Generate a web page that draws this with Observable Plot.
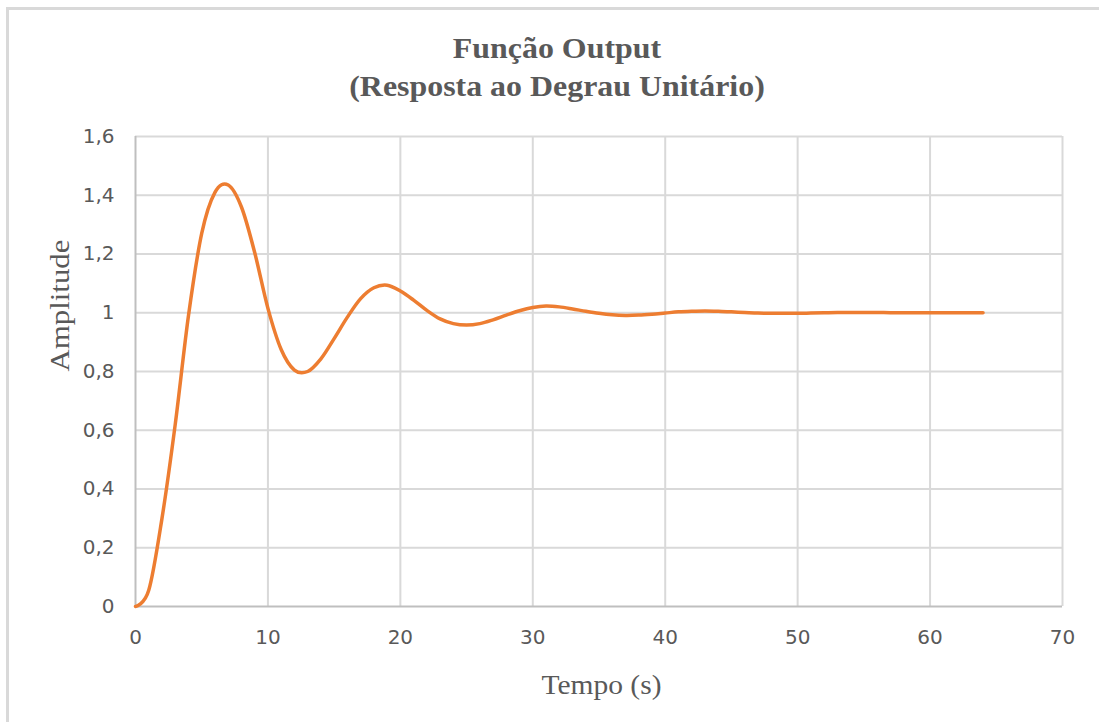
<!DOCTYPE html>
<html>
<head>
<meta charset="utf-8">
<script src="https://cdn.jsdelivr.net/npm/d3@7"></script>
<script src="https://cdn.jsdelivr.net/npm/@observablehq/plot@0.6"></script>
<style>
  html, body { margin: 0; padding: 0; background: #fff; overflow: hidden; width: 1099px; height: 722px; }
  #frame { position: absolute; left: 6px; top: 7px; width: 1200px; height: 800px; border: 3px solid #d9d9d9; box-sizing: border-box; }
  #title { position: absolute; left: 8px; width: 1098px; top: 29px; text-align: center;
           font: bold 29px "Liberation Serif", serif; line-height: 38px; color: #595959;
           transform: scaleX(1.1); transform-origin: center top; }
  #chart { position: absolute; left: 0; top: 120px; }
</style>
</head>
<body>
<div id="frame"></div>
<div id="title"><div>Função Output</div><div>(Resposta ao Degrau Unitário)</div></div>
<div id="chart"></div>
<script>
// Step response samples: time (s) and output amplitude
const tempo = [0, 1, 2, 3, 4, 5, 6, 7, 8, 9, 10, 11, 12, 13, 14, 15, 16, 17, 18, 19, 20,
  21, 22, 23, 24, 25, 26, 27, 28, 29, 30, 31, 32, 33, 34, 35, 36, 37, 38, 39, 40,
  41, 42, 43, 44, 45, 46, 47, 48, 49, 50, 51, 52, 53, 54, 55, 56, 57, 58, 59, 60,
  61, 62, 63, 64];
const amplitude = [0, 0.055, 0.30, 0.62, 0.99, 1.27, 1.41, 1.435, 1.36, 1.205, 1.015,
  0.875, 0.805, 0.800, 0.843, 0.912, 0.985, 1.048, 1.085, 1.094, 1.074,
  1.043, 1.008, 0.979, 0.963, 0.958, 0.963, 0.976, 0.992, 1.007, 1.018,
  1.023, 1.020, 1.013, 1.005, 0.998, 0.993, 0.991, 0.992, 0.995, 0.999,
  1.003, 1.005, 1.006, 1.005, 1.003, 1.001, 0.999, 0.998, 0.998, 0.998,
  0.999, 1.000, 1.001, 1.001, 1.001, 1.001, 1.000, 1.000, 1.000, 1.000,
  1.000, 1.000, 1.000, 1.000];

const xTicks = [0, 10, 20, 30, 40, 50, 60, 70];
const yTicks = [0, 0.2, 0.4, 0.6, 0.8, 1, 1.2, 1.4, 1.6];

const xLabel = "Tempo (s)";
const yLabel = "Amplitude";

const data = tempo.map((t, i) => ({t, a: amplitude[i]}));
const commaDecimal = d => String(d).replace(".", ",");

const labelStyle = {fontFamily: "Liberation Serif", fontSize: 27, fill: "#595959", text: d => d};

const chart = Plot.plot({
  width: 1099,
  height: 602,
  marginTop: 16,
  marginBottom: 116,
  marginLeft: 135,
  marginRight: 37,
  style: {fontFamily: "DejaVu Sans", fontSize: "20px", color: "#595959", background: "transparent"},
  x: {domain: [0, 70]},
  y: {domain: [0, 1.6]},
  marks: [
    Plot.gridX(xTicks.filter(d => d > 0), {stroke: "#d9d9d9", strokeOpacity: 1, strokeWidth: 2}),
    Plot.gridY(yTicks.filter(d => d > 0), {stroke: "#d9d9d9", strokeOpacity: 1, strokeWidth: 2}),
    Plot.ruleX([0], {stroke: "#bfbfbf", strokeWidth: 2}),
    Plot.ruleY([0], {stroke: "#bfbfbf", strokeWidth: 2}),
    Plot.axisX({ticks: xTicks, tickSize: 0, tickPadding: 23, label: null}),
    Plot.axisY({ticks: yTicks, tickSize: 0, tickPadding: 21, tickFormat: commaDecimal, label: null}),
    Plot.line(data, {x: "t", y: "a", stroke: "#ED7D31", strokeWidth: 3.5, curve: "cardinal", tension: 0}),
    Plot.text([yLabel], {...labelStyle, frameAnchor: "left", dx: -75, rotate: -90}),
    Plot.text([xLabel], {...labelStyle, frameAnchor: "bottom", dx: 2.5, dy: 87})
  ]
});

// Widen the axis titles to the chart's stretched lettering
d3.select(chart).selectAll("text")
  .filter(function () { return this.textContent === yLabel; })
  .attr("textLength", 132).attr("lengthAdjust", "spacingAndGlyphs");
d3.select(chart).selectAll("text")
  .filter(function () { return this.textContent === xLabel; })
  .attr("textLength", 120).attr("lengthAdjust", "spacingAndGlyphs");

document.getElementById("chart").appendChild(chart);
</script>
</body>
</html>
